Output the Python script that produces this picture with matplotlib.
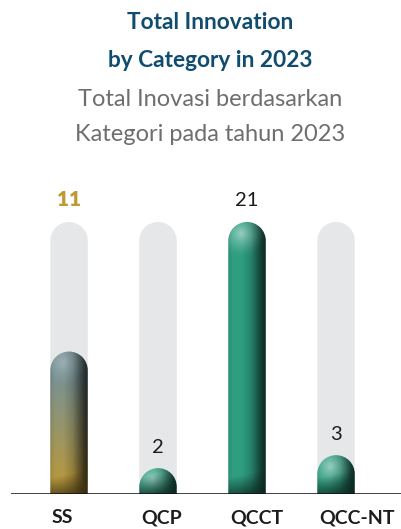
import numpy as np
import matplotlib
matplotlib.use("Agg")
import matplotlib.pyplot as plt
from matplotlib.path import Path
from matplotlib.patches import PathPatch
from matplotlib.transforms import Affine2D, offset_copy

# ---- data ----
categories = ["SS", "QCP", "QCCT", "QCC-NT"]
values = [11, 2, 21, 3]
highlight = "SS"

title_lines = ["Total Innovation", "by Category in 2023"]
subtitle_lines = ["Total Inovasi berdasarkan", "Kategori pada tahun 2023"]

W_PX, H_PX, DPI = 401, 529, 100
FONT = ["Lato", "DejaVu Sans"]
TITLE_C = "#0f4c6e"
SUB_C = "#6e6e6e"
GOLD = "#bf9a34"
TRACK_C = "#e6e7e8"

fig = plt.figure(figsize=(W_PX / DPI, H_PX / DPI), dpi=DPI)
fig.patch.set_facecolor("white")


def fy(px):
    return 1 - px / H_PX


# titles
for txt, y in zip(title_lines, [29, 67]):
    fig.text(210 / W_PX, fy(y), txt, ha="center", va="baseline",
             fontsize=16.3, fontweight="bold", color=TITLE_C, family=FONT)
for txt, y in zip(subtitle_lines, [106, 141]):
    fig.text(210 / W_PX, fy(y), txt, ha="center", va="baseline",
             fontsize=17, fontweight="normal", color=SUB_C, family=FONT)

# bar axes: baseline at 494 px, top of track at 222 px
base_px, top_px = 494, 222
ax = fig.add_axes([11 / W_PX, fy(base_px), 390 / W_PX, (base_px - top_px) / H_PX])
ax.set_xlim(-0.652, 3.73)
ymax = max(values)
ax.set_ylim(0, ymax)
ax.axis("off")

bar_w = 0.421
fig.canvas.draw()
bb = ax.get_window_extent()
ppx = bb.width / (ax.get_xlim()[1] - ax.get_xlim()[0])   # pixels per x unit
ppy = bb.height / (ymax - 0)                             # pixels per y unit


def capsule_path(xc, top):
    """Rectangle with a semicircular top, in data units."""
    rx = bar_w / 2
    ry = rx * ppx / ppy
    cy = top - ry
    arc = Path.arc(0, 180)
    av = Affine2D().scale(rx, ry).translate(xc, cy).transform(arc.vertices)
    verts = [(xc + rx, 0), (xc + rx, cy)] + [tuple(v) for v in av[1:]] + \
            [(xc - rx, 0), (xc + rx, 0)]
    codes = [Path.MOVETO, Path.LINETO] + list(arc.codes[1:]) + \
            [Path.LINETO, Path.CLOSEPOLY]
    return Path(verts, codes), ry


def bar_image(val, gold):
    hpx = max(int(round(val * ppy)) * 3, 3)
    wpx = int(round(bar_w * ppx)) * 3
    u = np.linspace(0, 1, wpx)[None, :]
    hv = np.linspace(0, val * ppy, hpx)[:, None]      # pixel height from baseline
    # horizontal shading across the tube
    s = np.interp(u, [0, 0.12, 0.35, 0.6, 0.78, 0.9, 1.0],
                  [0.95, 1.05, 1.06, 0.88, 0.58, 0.38, 0.28])
    if gold:
        c_low = np.array([172, 144, 60]) / 255
        c_high = np.array([112, 138, 142]) / 255
        hn = hv / (val * ppy)
        k = np.clip((hn - 0.1) / 0.75, 0, 1)[..., None]
        base = c_low * (1 - k) + c_high * k
        gmax = 0.28
    else:
        base = np.broadcast_to(np.array([44, 150, 122]) / 255, (hpx, 1, 3))
        gmax = 0.5
    img = base * s[..., None]
    # glossy highlight near the top-left of the cap
    r = bar_w * ppx / 2
    top = val * ppy
    dx = (u - 0.35) * bar_w * ppx
    dy = hv - (top - r * 0.6)
    d = np.sqrt(dx ** 2 + dy ** 2) / (r * 1.3)
    glow = np.clip(1 - d, 0, 1) ** 1.6 * gmax
    img = img * (1 - glow[..., None]) + glow[..., None]
    # darker band at the foot of the tube
    band = 20
    slope = hv + (0.5 - u) * 8
    k = np.clip((band - slope) / band, 0, 1)
    dark = np.array([12, 40, 32]) / 255 if not gold else np.array([60, 48, 16]) / 255
    img = img * (1 - 0.75 * k[..., None]) + dark * 0.75 * k[..., None]
    return np.clip(img, 0, 1)


for i, (cat, val) in enumerate(zip(categories, values)):
    # background track
    tpath, _ = capsule_path(i, ymax)
    ax.add_patch(PathPatch(tpath, facecolor=TRACK_C, edgecolor="none", zorder=1))
    # value bar with gradient clipped to its capsule
    bpath, _ = capsule_path(i, val)
    patch = PathPatch(bpath, facecolor="none", edgecolor="none", zorder=2)
    ax.add_patch(patch)
    im = ax.imshow(bar_image(val, cat == highlight), origin="lower",
                   extent=(i - bar_w / 2, i + bar_w / 2, 0, val),
                   aspect="auto", interpolation="bilinear", zorder=2)
    im.set_clip_path(patch)

    # value label
    is_hl = cat == highlight
    ly = ymax if is_hl else val
    tr = offset_copy(ax.transData, fig=fig, y=9, units="points")
    ax.text(i, ly, str(val), transform=tr, ha="center", va="bottom",
            fontsize=15 if is_hl else 14.5,
            fontweight="heavy" if is_hl else "normal",
            color=GOLD if is_hl else "#1c1c1c", family=FONT, clip_on=False)

    # category label, left-aligned with the bar
    ax.text(i - bar_w / 2 + 0.02, 0, cat, transform=offset_copy(
        ax.transData, fig=fig, y=-(523 - base_px) * 72 / DPI, units="points"),
        ha="left", va="baseline", fontsize=14, fontweight="bold",
        color="#1c1c1c", family=FONT, clip_on=False)

ax.axhline(0, color="#111111", lw=1.1, zorder=3)
ax.set_xlim(-0.652, 3.73)
ax.set_ylim(0, ymax)

fig.savefig("out.png", dpi=DPI, facecolor="white")
